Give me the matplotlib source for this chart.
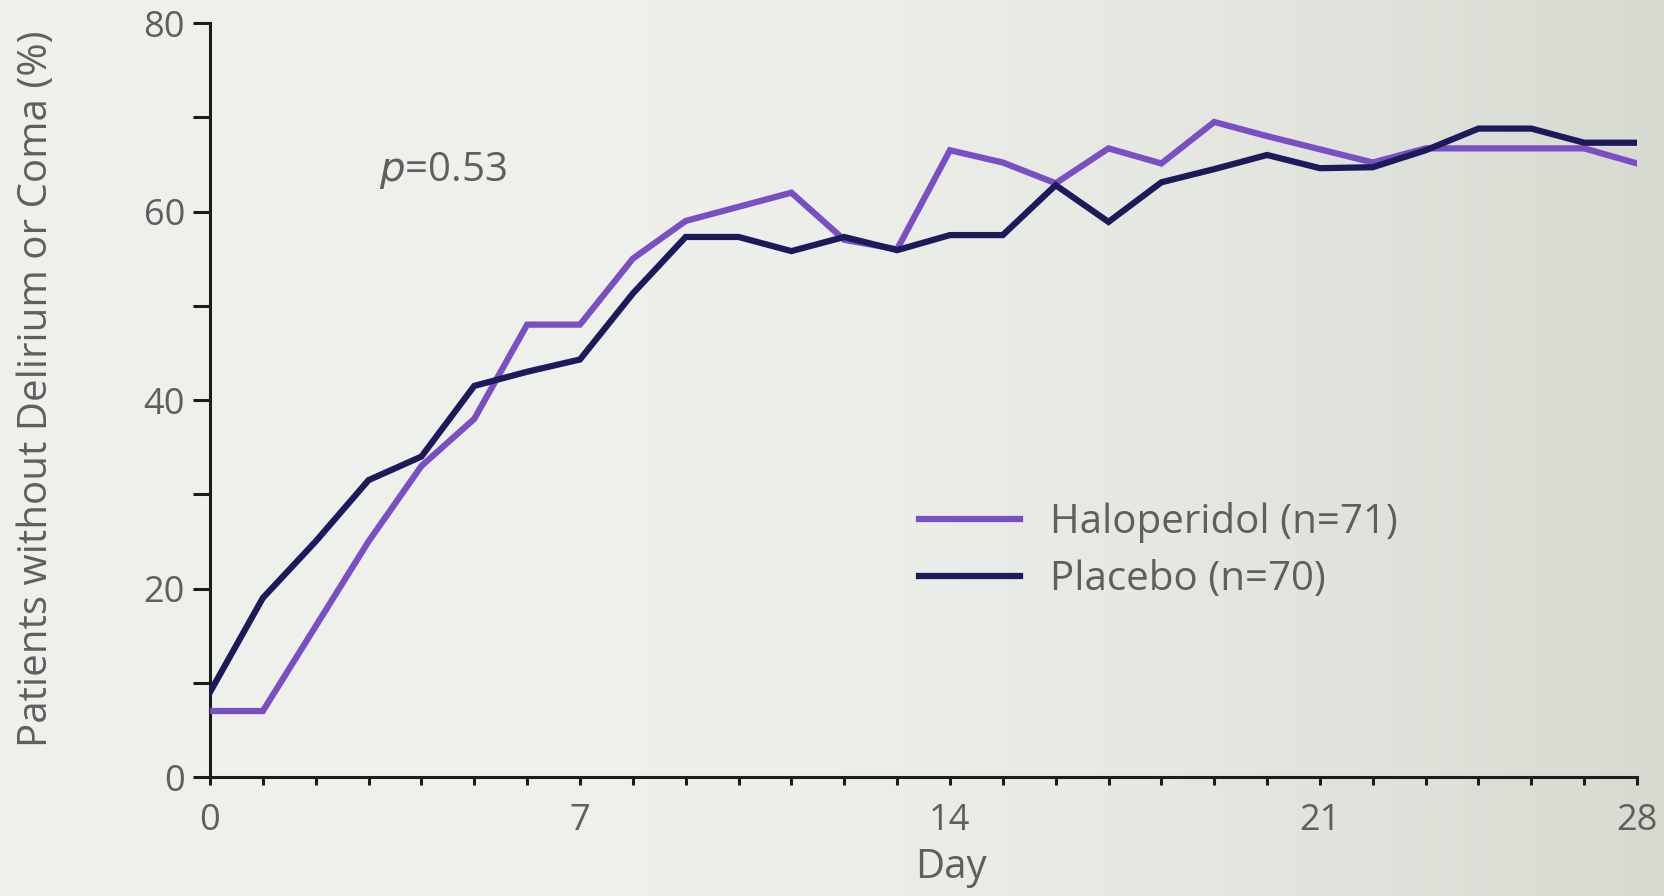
import numpy as np
import matplotlib
matplotlib.use("Agg")
import matplotlib.pyplot as plt
from matplotlib.ticker import FixedLocator, MultipleLocator

# ---- data ----
days = list(range(28))
haloperidol = [7, 7, 16, 25, 33, 38, 48, 48, 55, 59, 60.5, 62, 57, 56,
               66.5, 65.2, 63, 66.7, 65.1, 69.5, 68, 66.6, 65.2, 66.7,
               66.7, 66.7, 66.7, 65.1]
placebo = [9, 19, 25, 31.5, 34, 41.5, 43, 44.3, 51.3, 57.3, 57.3, 55.8, 57.3, 55.9,
           57.5, 57.5, 62.8, 58.9, 63.1, 64.5, 66, 64.6, 64.7, 66.5,
           68.8, 68.8, 67.3, 67.3]
series_labels = ["Haloperidol (n=71)", "Placebo (n=70)"]
xtick_pos = [0, 7, 14, 21, 27]
xtick_labels = ["0", "7", "14", "21", "28"]
ytick_major = [0, 20, 40, 60, 80]
p_text = "=0.53"

FONT = ["Open Sans", "DejaVu Sans"]
plt.rcParams['font.family'] = FONT
TXT = "#5f5f5f"
SPINE = "#1c1c1c"
C_HAL = "#7a4fc4"
C_PLA = "#1d1a5c"

fig = plt.figure(figsize=(16.64, 8.96), dpi=100)

# background gradient (photo of a slide)
bg = fig.add_axes([0, 0, 1, 1], zorder=-10)
gx = np.linspace(0, 1, 256)
gy = np.linspace(0, 1, 64)
GX, GY = np.meshgrid(gx, gy)
left = np.array([0.935, 0.942, 0.925])
right = np.array([0.84, 0.855, 0.815])
t = np.clip((GX - 0.35) / 0.65, 0, 1) ** 1.6
img = left[None, None, :] * (1 - t[..., None]) + right[None, None, :] * t[..., None]
bg.imshow(img, aspect="auto", extent=[0, 1, 0, 1], origin="lower")
bg.axis("off")

ax = fig.add_axes([0.1262, 0.1328, 0.8576, 0.8415])
ax.set_facecolor("none")

ax.plot(days, haloperidol, color=C_HAL, lw=4.5, solid_joinstyle="miter",
        label=series_labels[0], zorder=3)
ax.plot(days, placebo, color=C_PLA, lw=4.5, solid_joinstyle="miter",
        label=series_labels[1], zorder=4)

ax.set_xlim(0, 27)
ax.set_ylim(0, 80)

for s in ["top", "right"]:
    ax.spines[s].set_visible(False)
for s in ["left", "bottom"]:
    ax.spines[s].set_color(SPINE)
    ax.spines[s].set_linewidth(2.2)

ax.xaxis.set_major_locator(FixedLocator(xtick_pos))
ax.set_xticklabels(xtick_labels)
ax.xaxis.set_minor_locator(MultipleLocator(1))
ax.yaxis.set_major_locator(FixedLocator(ytick_major))
ax.yaxis.set_minor_locator(MultipleLocator(10))

ax.tick_params(axis="x", which="both", direction="out", length=6, width=2.2,
               color=SPINE, labelsize=26, labelcolor=TXT, pad=13)
ax.tick_params(axis="y", which="both", direction="out", length=12, width=2.2,
               color=SPINE, labelsize=26, labelcolor=TXT, pad=6)

ax.set_xlabel("Day", fontsize=29, color=TXT)
ax.xaxis.set_label_coords(0.519, -0.093)
ax.set_ylabel("Patients without Delirium or Coma (%)", fontsize=29, color=TXT)
ax.yaxis.set_label_coords(-0.107, 0.515)

ax.text(3.2, 64.4, r"$p$" + p_text, fontsize=29, color=TXT, va="center", ha="left",
        family=FONT)

leg = ax.legend(loc="upper left", bbox_to_anchor=(0.497, 0.365), frameon=False,
                fontsize=29, handlelength=2.5, handletextpad=0.75,
                labelspacing=0.42, borderpad=0, borderaxespad=0)
for txt in leg.get_texts():
    txt.set_color(TXT)

fig.savefig("out.png", dpi=100)
